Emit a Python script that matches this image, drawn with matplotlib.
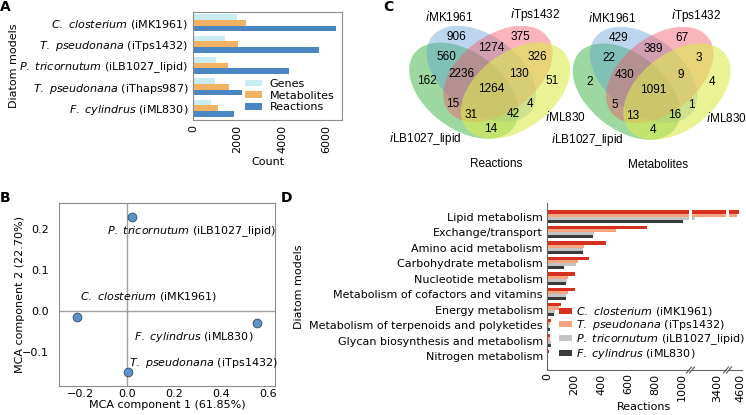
import matplotlib.pyplot as plt
from matplotlib.patches import Ellipse
from matplotlib.lines import Line2D
import numpy as np

plt.rcParams['font.size'] = 8
plt.rcParams['axes.edgecolor'] = '#8c8c8c'

# ---------------- data ----------------
# panel A
models_a = [r'$\it{C.}$ $\it{closterium}$ (iMK1961)',
            r'$\it{T.}$ $\it{pseudonana}$ (iTps1432)',
            r'$\it{P.}$ $\it{tricornutum}$ (iLB1027_lipid)',
            r'$\it{T.}$ $\it{pseudonana}$ (iThaps987)',
            r'$\it{F.}$ $\it{cylindrus}$ (iML830)']
genes = [1961, 1432, 1027, 987, 830]
metabolites = [2387, 2007, 1583, 1610, 1141]
reactions = [6416, 5651, 4324, 2195, 1862]

# panel B
mca_x = [0.02, -0.215, 0.555, 0.005]
mca_y = [0.228, -0.014, -0.029, -0.148]
mca_names = [r'$\it{P.}$ $\it{tricornutum}$ (iLB1027_lipid)',
             r'$\it{C.}$ $\it{closterium}$ (iMK1961)',
             r'$\it{F.}$ $\it{cylindrus}$ (iML830)',
             r'$\it{T.}$ $\it{pseudonana}$ (iTps1432)']
mca_label_pos = [(-0.085, 0.193, 'left'), (-0.2, 0.034, 'left'),
                 (0.54, -0.063, 'right'), (0.008, -0.127, 'left')]

# panel C  (sets order: iLB1027_lipid, iMK1961, iTps1432, iML830)
venn_keys = ['1000', '0100', '0010', '0001', '1100', '0110', '0011', '1110',
             '0111', '1111', '1010', '0101', '1011', '1101', '1001']
venn_reactions = [162, 906, 375, 51, 560, 1274, 326, 2236, 130, 1264, 15, 4, 31, 42, 14]
venn_metabolites = [2, 429, 67, 4, 22, 389, 3, 430, 9, 1091, 5, 1, 13, 16, 4]

# panel D
categories = ['Lipid metabolism', 'Exchange/transport', 'Amino acid metabolism',
              'Carbohydrate metabolism', 'Nucleotide metabolism',
              'Metabolism of cofactors and vitamins', 'Energy metabolism',
              'Metabolism of terpenoids and polyketides',
              'Glycan biosynthesis and metabolism', 'Nitrogen metabolism']
d_models = [r'$\it{C.}$ $\it{closterium}$ (iMK1961)',
            r'$\it{T.}$ $\it{pseudonana}$ (iTps1432)',
            r'$\it{P.}$ $\it{tricornutum}$ (iLB1027_lipid)',
            r'$\it{F.}$ $\it{cylindrus}$ (iML830)']
d_mk = [4590, 742, 438, 314, 208, 206, 104, 32, 25, 15]
d_tps = [4575, 512, 277, 228, 158, 156, 91, 20, 25, 10]
d_lb = [3240, 349, 270, 215, 146, 141, 59, 15, 30, 5]
d_ml = [1010, 339, 265, 124, 141, 141, 52, 25, 30, 3]

fig = plt.figure(figsize=(7.46, 4.15), dpi=100)
W, H = 746, 415


def box(x0, y0, x1, y1):
    # pixel box (top-left origin) -> figure fraction rect
    return [x0 / W, (H - y1) / H, (x1 - x0) / W, (y1 - y0) / H]


# ---------------- A ----------------
axA = fig.add_axes(box(193, 12, 342, 120))
y = np.arange(len(models_a))
bw = 0.8 / 3
axA.barh(y - bw, genes, bw, color='#c9ebf2', label='Genes')
axA.barh(y, metabolites, bw, color='#f2b264', label='Metabolites')
axA.barh(y + bw, reactions, bw, color='#4a86c1', label='Reactions')
axA.set_yticks(y)
axA.set_yticklabels(models_a)
axA.set_ylim(4.55, -0.5)
axA.set_xlim(0, 6700)
axA.set_xticks([0, 2000, 4000, 6000])
axA.tick_params(length=0, pad=3.5)
axA.tick_params(axis='x', labelrotation=90)
axA.set_xlabel('Count', labelpad=3)
axA.set_ylabel('Diatom models')
axA.yaxis.set_label_coords((19 - 193) / 149, 0.5)
axA.legend(loc='lower right', frameon=False, handlelength=1.5, handleheight=0.55,
           labelspacing=0.15, borderaxespad=0.3, handletextpad=0.7, fontsize=8)

# ---------------- B ----------------
axB = fig.add_axes(box(59, 203, 275, 386))
axB.axhline(0, color='#a0a0a0', lw=1, zorder=1)
axB.axvline(0, color='#a0a0a0', lw=1, zorder=1)
axB.scatter(mca_x, mca_y, s=40, color='#5b93c7', edgecolor='#2e4a66', lw=0.6, zorder=3)
for name, (tx, ty, ha) in zip(mca_names, mca_label_pos):
    axB.text(tx, ty, name, ha=ha, va='center', fontsize=8)
axB.set_xlim(-0.29, 0.63)
axB.set_ylim(-0.183, 0.263)
axB.set_xticks([-0.2, 0.0, 0.2, 0.4, 0.6])
axB.set_yticks([-0.1, 0.0, 0.1, 0.2])
axB.tick_params(axis='x', length=0, pad=2.5)
axB.tick_params(axis='y', length=0, pad=7)
axB.set_xlabel('MCA component 1 (61.85%)', labelpad=0.5)
axB.set_ylabel('MCA component 2 (22.70%)')
axB.yaxis.set_label_coords((25 - 59) / 216, 0.5)

# ---------------- C ----------------
venn_font = 'Liberation Sans'
ell_centers = [(0.350, 0.400), (0.450, 0.500), (0.544, 0.500), (0.644, 0.400)]
ell_angles = [140, 140, 40, 40]
ell_colors = [(0.36, 0.75, 0.38, 0.6), (0.35, 0.61, 0.83, 0.4),
              (0.95, 0.35, 0.42, 0.45), (0.86, 0.92, 0.30, 0.6)]
label_xy = [(0.14, 0.458), (0.305, 0.72), (0.674, 0.72), (0.85, 0.458),
            (0.252, 0.60), (0.508, 0.654), (0.768, 0.60), (0.338, 0.50),
            (0.666, 0.50), (0.508, 0.408), (0.286, 0.32), (0.727, 0.32),
            (0.389, 0.254), (0.632, 0.26), (0.503, 0.17)]


def draw_venn(ax, counts, title):
    ax.set_xlim(0, 1)
    ax.set_ylim(0, 1)
    ax.set_axis_off()
    for (cx, cy), ang, col in zip(ell_centers, ell_angles, ell_colors):
        ax.add_patch(Ellipse((cx, cy), 0.72, 0.45, angle=ang, facecolor=col, lw=0))
    for (lx, ly), c in zip(label_xy, counts):
        ax.text(lx, ly, str(c), ha='center', va='center', family=venn_font, fontsize=8.5)
    kw = dict(family=venn_font, fontsize=8.5, va='center', clip_on=False)
    ax.text(0.268, 0.843, r'$\mathit{i}$MK1961', ha='center', **kw)
    ax.text(0.758, 0.854, r'$\mathit{i}$Tps1432', ha='center', **kw)
    ax.text(0.334, 0.11, r'$\mathit{i}$LB1027_lipid', ha='right', **kw)
    ax.text(0.81, 0.242, r'$\mathit{i}$ML830', ha='left', **kw)
    ax.text(0.535, -0.04, title, ha='center', **kw)


axC2 = fig.add_axes([566 / W, (H - 158.3) / H, 172.3 / W, 166.7 / H])
draw_venn(axC2, venn_metabolites, 'Metabolites')
axC1 = fig.add_axes([402.4 / W, (H - 157.3) / H, 175.6 / W, 166.7 / H])
draw_venn(axC1, venn_reactions, 'Reactions')

# ---------------- D (broken x axis) ----------------
segs = [(547, 689, (0, 1053)), (692, 726, (3215, 3467)), (729, 742, (4518, 4614))]
seg_ticks = [[0, 200, 400, 600, 800, 1000], [3400], [4600]]
d_colors = ['#d7301f', '#f4a582', '#c4c4c4', '#3a3a3a']
series = [d_mk, d_tps, d_lb, d_ml]
yd = np.arange(len(categories))
bh = 0.2
axes_d = []
for i, (x0, x1, lim) in enumerate(segs):
    ax = fig.add_axes(box(x0, 203, x1, 370))
    for j, (vals, col, lab) in enumerate(zip(series, d_colors, d_models)):
        ax.barh(yd - 0.3 + j * bh, vals, bh, color=col, label=lab)
    ax.set_xlim(*lim)
    ax.set_ylim(9.9, -0.88)
    ax.set_xticks(seg_ticks[i])
    ax.tick_params(axis='x', labelrotation=90, length=0, pad=2.5)
    for s in ['top', 'right']:
        ax.spines[s].set_visible(False)
    ax.spines['left'].set_color('#666666')
    ax.spines['bottom'].set_color('#666666')
    if i == 0:
        ax.set_yticks(yd)
        ax.set_yticklabels(categories)
        ax.tick_params(axis='y', length=0, pad=3)
        ax.set_ylabel('Diatom models', labelpad=4)
    else:
        ax.spines['left'].set_visible(False)
        ax.set_yticks([])
    axes_d.append(ax)

# break marks on the bottom axis
yb = (H - 370) / H
for xb in [689, 692, 726, 729]:
    fig.add_artist(Line2D([(xb - 2.5) / W, (xb + 2.5) / W], [yb - 3 / H, yb + 3 / H],
                          color='#555555', lw=0.8))

fig.text(644.5 / W, (H - 407) / H, 'Reactions', ha='center', va='center', fontsize=8)
handles, labels = axes_d[0].get_legend_handles_labels()
fig.legend(handles, labels, loc='lower left', bbox_to_anchor=(559 / W, (H - 361) / H),
           frameon=False, borderpad=0, borderaxespad=0, handlelength=1.2,
           handleheight=0.45, handletextpad=0.35, labelspacing=0.0, fontsize=8)

# panel letters
for letter, (lx, ly) in zip('ABCD', [(5, 7), (5, 198), (388, 7), (287, 198)]):
    fig.text(lx / W, (H - ly) / H, letter, fontsize=10, fontweight='bold', ha='center', va='center')

fig.savefig('out.png', dpi=100)
